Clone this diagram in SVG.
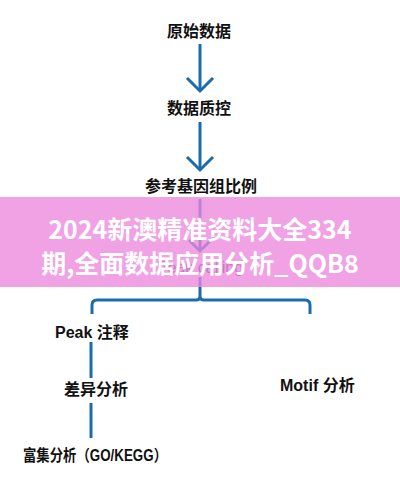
<svg xmlns="http://www.w3.org/2000/svg" width="400" height="484" viewBox="0 0 400 484">
<style>
.t{font-family:"Liberation Sans","Noto Sans CJK SC",sans-serif;font-weight:bold;fill:#111;font-size:16px;dominant-baseline:central}
.c{text-anchor:middle}
.ln{stroke:#1a6cae;stroke-width:3;fill:none;stroke-linecap:butt}
.ah{stroke:#1a6cae;stroke-width:3;fill:none;stroke-linejoin:miter}
.bt{font-family:"Noto Sans CJK SC","Liberation Sans",sans-serif;font-weight:bold;fill:#fff;font-size:25px;text-anchor:middle;dominant-baseline:central}
</style>
<rect width="400" height="484" fill="#fff"/>
<g id="n1"><text class="t c" x="199" y="31">原始数据</text></g>
<g id="n2"><text class="t c" x="199" y="108">数据质控</text></g>
<g id="n3"><text class="t c" x="201" y="186">参考基因组比例</text></g>
<g id="n4"><text class="t c" x="200" y="267" style="fill:#444;font-weight:normal">Peak calling</text></g>
<g id="n5"><text class="t" x="55" y="332">Peak 注释</text></g>
<g id="n6"><text class="t" x="64" y="389">差异分析</text></g>
<g id="n7"><text class="t" x="23" y="455" textLength="144" lengthAdjust="spacingAndGlyphs">富集分析（GO/KEGG）</text></g>
<g id="n8"><text class="t" x="280" y="385">Motif 分析</text></g>
<g id="connectors">
<line class="ln" x1="200" y1="44" x2="200" y2="91"/>
<polyline class="ah" points="187,78 200,91 213,78"/>
<line class="ln" x1="200" y1="122" x2="200" y2="170"/>
<polyline class="ah" points="187,157 200,170 213,157"/>
<line class="ln" x1="200" y1="199" x2="200" y2="251"/>
<polyline class="ah" points="189,240 200,251 211,240"/>
<line class="ln" x1="200" y1="277" x2="200" y2="296"/>
<path class="ln" d="M92,314 V305 Q92,300 97,300 H196 Q200,300 200,296 Q200,300 204,300 H305 Q310,300 310,305 V314"/>
<line class="ln" x1="91" y1="342" x2="91" y2="378"/>
<line class="ln" x1="91" y1="403" x2="91" y2="438"/>
</g>
<g id="banner">
<rect x="0" y="197" width="400" height="90" fill="#ec88dc" opacity="0.78"/>
<text class="bt" x="200" y="228">2024新澳精准资料大全334</text>
<text class="bt" x="200" y="262">期,全面数据应用分析_QQB8</text>
</g>
</svg>
